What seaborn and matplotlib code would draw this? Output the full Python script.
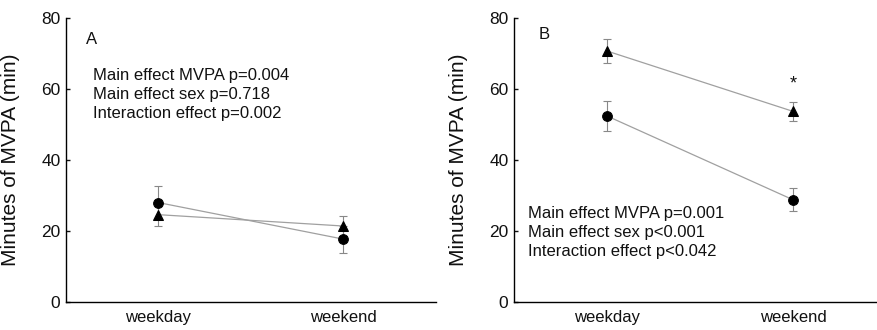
import matplotlib
matplotlib.use("Agg")
import matplotlib.pyplot as plt
import seaborn as sns
import pandas as pd

days = ["weekday", "weekend"]
sex = ["circle", "triangle"]

# Panel A values
a_circle = [28.0, 17.7]
a_circle_err = [4.7, 3.8]
a_triangle = [24.6, 21.4]
a_triangle_err = [3.3, 2.7]

# Panel B values
b_circle = [52.4, 28.8]
b_circle_err = [4.3, 3.3]
b_triangle = [70.7, 53.7]
b_triangle_err = [3.5, 2.7]

a_text = ["Main effect MVPA p=0.004", "Main effect sex p=0.718", "Interaction effect p=0.002"]
b_text = ["Main effect MVPA p=0.001", "Main effect sex p<0.001", "Interaction effect p<0.042"]

sns.set_style("white")
plt.rcParams["font.family"] = ["Liberation Sans", "DejaVu Sans"]
plt.rcParams["text.color"] = "#111111"
plt.rcParams["xtick.color"] = "#111111"
plt.rcParams["ytick.color"] = "#111111"
plt.rcParams["axes.labelcolor"] = "#111111"

fig = plt.figure(figsize=(8.78, 3.3), dpi=100)
axA = fig.add_axes([66/878, 28/330, 370/878, 284/330])
axB = fig.add_axes([514/878, 28/330, 372/878, 284/330])


def draw(ax, circ, circ_err, tri, tri_err, letter, letter_xy, texts, text_xy):
    df = pd.DataFrame({
        "day": days * 2,
        "x": [0, 1, 0, 1],
        "val": circ + tri,
        "err": circ_err + tri_err,
        "group": ["circle"] * 2 + ["triangle"] * 2,
    })
    ax.errorbar(df["x"], df["val"], yerr=df["err"], fmt="none", ecolor="#888888",
                elinewidth=0.8, capsize=3, capthick=0.8, zorder=1)
    sns.lineplot(data=df, x="x", y="val", style="group", markers={"circle": "o", "triangle": "^"},
                 dashes=False, color="#a0a0a0", linewidth=0.9, markersize=7,
                 markerfacecolor="black", markeredgecolor="black", legend=False, ax=ax, zorder=2)
    ax.set_xlim(-0.5, 1.5)
    ax.set_ylim(0, 80)
    ax.set_xticks([0, 1])
    ax.set_xticklabels(days, fontsize=12)
    ax.set_yticks([0, 20, 40, 60, 80])
    ax.tick_params(axis="y", labelsize=12.5, direction="in", length=3, width=1, left=True, pad=4)
    ax.tick_params(axis="x", length=0, pad=6)
    ax.set_xlabel("")
    ax.set_ylabel("Minutes of MVPA (min)", fontsize=15)
    ax.yaxis.set_label_coords(-46 / 370, 0.5)
    for s in ["top", "right"]:
        ax.spines[s].set_visible(False)
    for s in ["left", "bottom"]:
        ax.spines[s].set_color("black")
        ax.spines[s].set_linewidth(1.0)
    ax.text(letter_xy[0], letter_xy[1], letter, fontsize=12, ha="left", va="center")
    for i, t in enumerate(texts):
        ax.text(text_xy[0], text_xy[1] - i * 5.35, t, fontsize=12, ha="left", va="center")


draw(axA, a_circle, a_circle_err, a_triangle, a_triangle_err, "A", (-0.39, 74.0),
     a_text, (-0.355, 63.9))
draw(axB, b_circle, b_circle_err, b_triangle, b_triangle_err, "B", (-0.37, 75.4),
     b_text, (-0.425, 24.9))
axB.text(1.0, 61.5, "*", fontsize=13, ha="center", va="center")

fig.savefig("out.png", dpi=100)
